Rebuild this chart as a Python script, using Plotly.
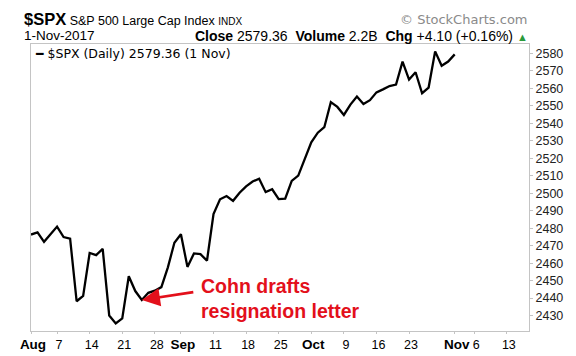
import pandas as pd
import plotly.graph_objects as go

# ---- data ----
dates = [
    "2017-08-01", "2017-08-02", "2017-08-03", "2017-08-04",
    "2017-08-07", "2017-08-08", "2017-08-09", "2017-08-10", "2017-08-11",
    "2017-08-14", "2017-08-15", "2017-08-16", "2017-08-17", "2017-08-18",
    "2017-08-21", "2017-08-22", "2017-08-23", "2017-08-24", "2017-08-25",
    "2017-08-28", "2017-08-29", "2017-08-30", "2017-08-31", "2017-09-01",
    "2017-09-05", "2017-09-06", "2017-09-07", "2017-09-08",
    "2017-09-11", "2017-09-12", "2017-09-13", "2017-09-14", "2017-09-15",
    "2017-09-18", "2017-09-19", "2017-09-20", "2017-09-21", "2017-09-22",
    "2017-09-25", "2017-09-26", "2017-09-27", "2017-09-28", "2017-09-29",
    "2017-10-02", "2017-10-03", "2017-10-04", "2017-10-05", "2017-10-06",
    "2017-10-09", "2017-10-10", "2017-10-11", "2017-10-12", "2017-10-13",
    "2017-10-16", "2017-10-17", "2017-10-18", "2017-10-19", "2017-10-20",
    "2017-10-23", "2017-10-24", "2017-10-25", "2017-10-26", "2017-10-27",
    "2017-10-30", "2017-10-31", "2017-11-01",
]
closes = [
    2476.35, 2477.57, 2472.16, 2476.83,
    2480.91, 2474.92, 2474.02, 2438.21, 2441.32,
    2465.84, 2464.61, 2468.11, 2430.01, 2425.55,
    2428.37, 2452.51, 2444.04, 2438.97, 2443.05,
    2444.24, 2446.30, 2457.59, 2471.65, 2476.55,
    2457.85, 2465.54, 2465.10, 2461.43,
    2488.11, 2496.48, 2498.37, 2495.62, 2500.23,
    2503.87, 2506.65, 2508.24, 2500.60, 2502.22,
    2496.66, 2496.84, 2507.04, 2510.06, 2519.36,
    2529.12, 2534.58, 2537.74, 2552.07, 2549.33,
    2544.73, 2550.64, 2555.24, 2550.93, 2553.17,
    2557.64, 2559.36, 2561.26, 2562.10, 2575.21,
    2564.98, 2569.13, 2557.15, 2560.40, 2581.07,
    2572.83, 2575.26, 2579.36,
]
tick_dates = ["2017-08-01", "2017-08-07", "2017-08-14", "2017-08-21", "2017-08-28",
              "2017-09-01", "2017-09-11", "2017-09-18", "2017-09-25",
              "2017-10-02", "2017-10-09", "2017-10-16", "2017-10-23",
              "2017-11-01", "2017-11-06", "2017-11-13"]
tick_labels = ["Aug", "7", "14", "21", "28",
               "Sep", "11", "18", "25",
               "Oct", "9", "16", "23",
               "Nov", "6", "13"]
month_labels = ["Aug", "Sep", "Oct", "Nov"]
y_ticks = [2430, 2440, 2450, 2460, 2470, 2480, 2490, 2500, 2510,
           2520, 2530, 2540, 2550, 2560, 2570, 2580]
holidays = ["2017-09-04"]
note_date = "2017-08-24"
note_lines = ["Cohn drafts", "resignation letter"]
volume_text = "2.2B"

# ---- trading-day calendar (no weekends / holidays) ----
cal = [d.strftime("%Y-%m-%d") for d in pd.bdate_range("2017-08-01", "2017-11-24")
       if d.strftime("%Y-%m-%d") not in holidays]
pos = {d: i for i, d in enumerate(cal)}
x = [pos[d] for d in dates]
tickvals = [pos[d] for d in tick_dates]
ticktext = [f"<b><span style='font-size:13.5px'>{t}</span></b>" if t in month_labels else t
            for t in tick_labels]

FONT = "Liberation Sans, Arial, sans-serif"
VFONT = "DejaVu Sans, Verdana, sans-serif"
RED = "#e3101b"

fig = go.Figure()
fig.add_trace(go.Scatter(x=x, y=closes, mode="lines",
                         line=dict(color="black", width=2.3),
                         showlegend=False, hoverinfo="skip"))

fig.update_layout(
    width=576, height=356,
    margin=dict(l=21, r=55, t=36, b=21),
    paper_bgcolor="white", plot_bgcolor="white",
    font=dict(family=FONT, color="black"),
)
fig.update_xaxes(
    range=[0, 76.4], tickvals=tickvals, ticktext=ticktext,
    showgrid=False, zeroline=False,
    showline=True, mirror=True, linecolor="#c4c4c4", linewidth=1,
    ticks="outside", ticklen=2, tickcolor="#c4c4c4",
    tickfont=dict(size=12.5, family=FONT, color="black"),
    ticklabelshift=2,
)
fig.update_yaxes(
    range=[2421.2, 2585.3], side="right", tickvals=y_ticks,
    showgrid=False, zeroline=False,
    showline=True, mirror=True, linecolor="#c4c4c4", linewidth=1,
    ticks="outside", ticklen=3, tickcolor="#c4c4c4",
    tickfont=dict(size=12.5, family=FONT, color="#222222"),
)

last = closes[-1]
chg = closes[-1] - closes[-2]
pct = chg / closes[-2] * 100
last_date = pd.Timestamp(dates[-1])

annotations = [
    dict(xref="paper", yref="paper", x=-0.016, y=1.087, xanchor="left", yanchor="middle",
         showarrow=False, borderpad=0,
         text="<span style='font-size:16.5px'><b>$SPX</b></span> S&amp;P 500 Large Cap Index "
              "<span style='font-size:10px'>INDX</span>",
         font=dict(size=12.5, family=FONT, color="black")),
    dict(xref="paper", yref="paper", x=1.0, y=1.087, xanchor="right", yanchor="middle",
         showarrow=False, borderpad=0, text="© StockCharts.com",
         font=dict(size=13, family=VFONT, color="#8a8a8a")),
    dict(xref="paper", yref="paper", x=-0.016, y=1.028, xanchor="left", yanchor="middle",
         showarrow=False, borderpad=0,
         text=f"{last_date.day}-{last_date.strftime('%b')}-{last_date.year}",
         font=dict(size=13.5, family=FONT, color="black")),
    dict(xref="paper", yref="paper", x=1.0, y=1.028, xanchor="right", yanchor="middle",
         showarrow=False, borderpad=0,
         text=f"<b>Close</b> {last:.2f}  <b>Volume</b> {volume_text}  <b>Chg</b> "
              f"{chg:+.2f} ({pct:+.2f}%) <span style='color:#2a9a3a;font-size:11px'>▲</span>",
         font=dict(size=14, family=FONT, color="black")),
    dict(xref="paper", yref="paper", x=0.006, y=0.968, xanchor="left", yanchor="middle",
         showarrow=False, borderpad=0,
         text=f"━ $SPX (Daily) {last:.2f} ({last_date.day} {last_date.strftime('%b')})",
         font=dict(size=12.5, family=VFONT, color="black")),
    dict(xref="x", yref="y", x=pos[note_date], y=closes[dates.index(note_date)],
         text="", showarrow=True, ax=53, ay=-8,
         arrowhead=2, arrowsize=1.4, arrowwidth=2.6, arrowcolor=RED),
    dict(xref="paper", yref="paper", x=0.34, y=0.114, xanchor="left", yanchor="middle",
         showarrow=False, align="left", borderpad=0,
         text="<br>".join(f"<b>{t}</b>" for t in note_lines),
         font=dict(size=19.5, family=FONT, color=RED)),
]
fig.update_layout(annotations=annotations)

fig.write_html("out.html")
